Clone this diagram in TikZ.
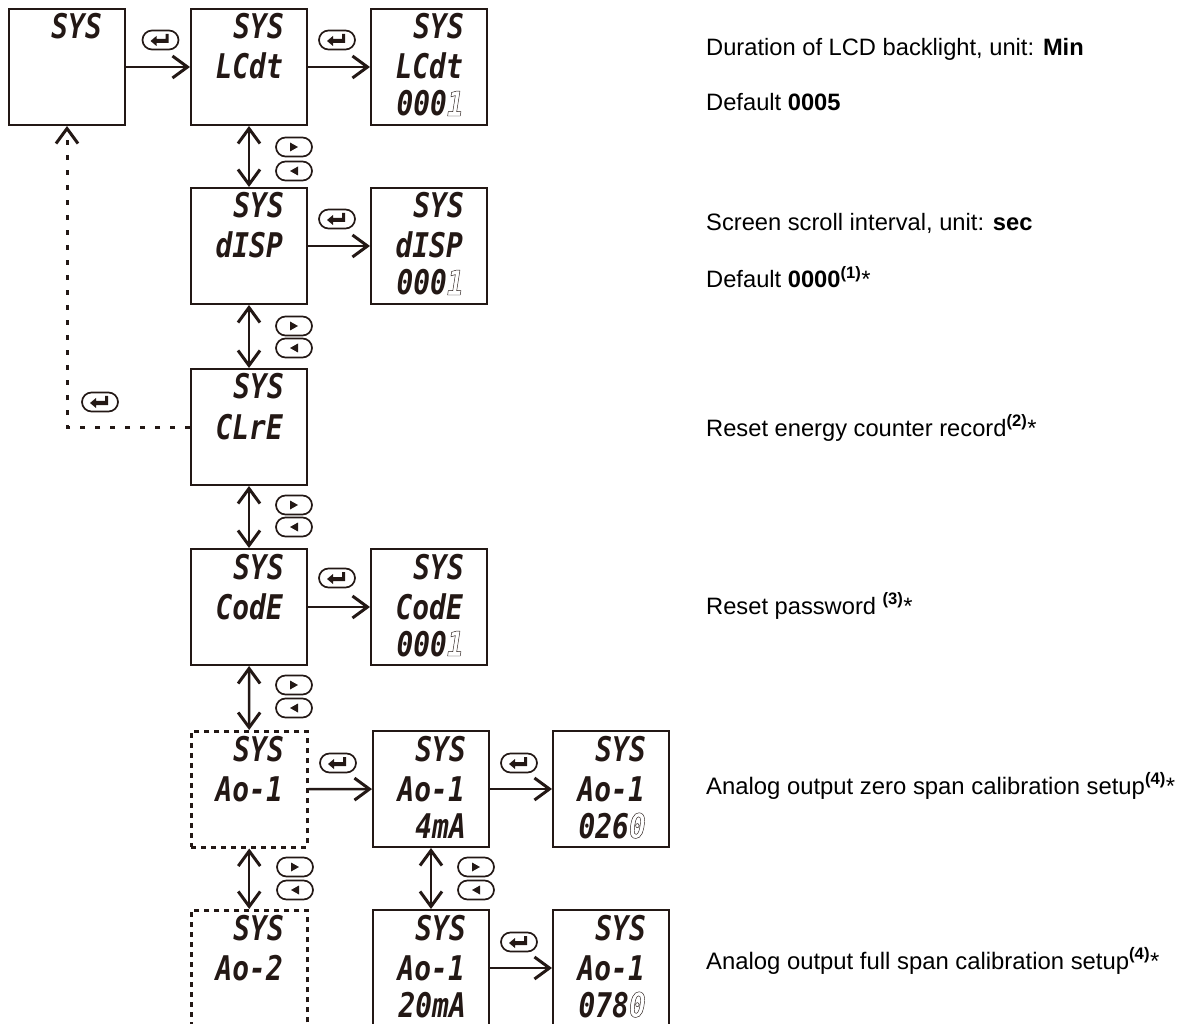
\documentclass[tikz,border=0pt]{standalone}
\usepackage{fontspec}
\usetikzlibrary{arrows.meta}
\setmainfont{Liberation Sans}
\newfontfamily\segfont[FakeStretch=0.82]{DejaVu Sans Mono}
\definecolor{ink}{HTML}{231815}
\newcommand\outl[1]{\special{pdf:code 1 Tr 0.45 w}#1\special{pdf:code 0 Tr}}
\tikzset{
  x=1pt,y=-1pt,
  barb/.tip={Straight Barb[length=15pt,width=22pt,line width=3pt]},
  lcdbox/.style={draw=ink,line width=2pt,minimum width=116pt,minimum height=116pt,inner sep=0pt,anchor=north west},
  lcddash/.style={lcdbox,line width=2.5pt,dash pattern=on 5pt off 5pt},
  seg/.style={text=ink,inner sep=0pt,anchor=base east,font=\segfont\bfseries\itshape\fontsize{34}{34}\selectfont},
  link/.style={draw=ink,line width=2.4pt,-barb},
  dlink/.style={draw=ink,line width=2.4pt,barb-barb},
  rlink/.style={link,line width=3pt,dash pattern=on 5pt off 10pt},
  pill/.style={draw=ink,line width=1.7pt,minimum width=36pt,minimum height=19pt,inner sep=0pt,rounded corners=9.5pt},
  enterkey/.style={pill,path picture={\fill[ink,sharp corners,shift={(path picture bounding box.center)}] (-10,1) -- (-4,-4) -- (-4,-1) -- (5,-1) -- (5,-6) -- (8,-6) -- (8,3) -- (-4,3) -- (-4,6) -- cycle;}},
  rightkey/.style={pill,path picture={\fill[ink,sharp corners,shift={(path picture bounding box.center)}] (-4,-4.5) -- (4,0) -- (-4,4.5) -- cycle;}},
  leftkey/.style={pill,path picture={\fill[ink,sharp corners,shift={(path picture bounding box.center)}] (4,-4.5) -- (-4,0) -- (4,4.5) -- cycle;}},
  note/.style={anchor=base west,inner sep=0pt,text=black,font=\fontsize{23.7}{28}\selectfont},
  widenote/.style={note,font=\fontsize{23.85}{28}\selectfont},
}
\newcommand\lcd[7][lcdbox]{%
  \node[#1] (#2) at (#3,#4) {};
  \node[seg] (#2a) at (#3+94,#4+31) {#5};
  \node[seg] (#2b) at (#3+93,#4+71) {#6};
  \node[seg] (#2c) at (#3+94,#4+108) {#7};
}
\newcommand\sups[1]{\textsuperscript{\bfseries #1}}
\begin{document}
\begin{tikzpicture}
\useasboundingbox (0,0) rectangle (1184,1024);
\clip (0,0) rectangle (1184,1024);
\lcd{a1}{8}{8}{SYS}{}{}
\lcd{a2}{190}{8}{SYS}{LCdt}{}
\lcd{a3}{370}{8}{SYS}{LCdt}{000\outl{1}}
\lcd{b2}{190}{187}{SYS}{dISP}{}
\lcd{b3}{370}{187}{SYS}{dISP}{000\outl{1}}
\lcd{c2}{190}{368}{SYS}{CLrE}{}
\lcd{d2}{190}{548}{SYS}{CodE}{}
\lcd{d3}{370}{548}{SYS}{CodE}{000\outl{1}}
\lcd[lcddash]{e2}{190}{730}{SYS}{Ao-1}{}
\lcd{e3}{372}{730}{SYS}{Ao-1}{4mA}
\lcd{e4}{552}{730}{SYS}{Ao-1}{026\outl{0}}
\lcd[lcddash]{f2}{190}{909}{SYS}{Ao-2}{}
\lcd{f3}{372}{909}{SYS}{Ao-1}{20mA}
\lcd{f4}{552}{909}{SYS}{Ao-1}{078\outl{0}}
% connectors
\draw[link] (a1) -- (a2);
\draw[link] (a2) -- (a3);
\draw[link] (b2) -- (b3);
\draw[link] (d2) -- (d3);
\draw[link] (e2) -- (e3);
\draw[link] (e3) -- (e4);
\draw[link] (f3) -- (f4);
\draw[dlink] (a2) -- (b2);
\draw[dlink] (b2) -- (c2);
\draw[dlink] (c2) -- (d2);
\draw[dlink] (d2) -- (e2);
\draw[dlink] (e2) -- (f2);
\draw[dlink] (e3) -- (f3);
\coordinate (ret) at (a1.south |- c2.west);
\draw[rlink] (c2.west) -- (ret) -- (a1.south);
% keys
\node[enterkey] (k1) at (160.5,40) {};
\node[enterkey] (k2) at (337,40) {};
\node[enterkey] (k3) at (337,219) {};
\node[enterkey] (k4) at (337,578) {};
\node[enterkey] (k5) at (338,763) {};
\node[enterkey] (k6) at (519,763) {};
\node[enterkey] (k7) at (519,942) {};
\node[enterkey] (k8) at (100,402) {};
\node[rightkey] (r1) at (294,147) {};
\node[leftkey] (l1) at (294,171) {};
\node[rightkey] (r2) at (294,326) {};
\node[leftkey] (l2) at (294,348) {};
\node[rightkey] (r3) at (294,505) {};
\node[leftkey] (l3) at (294,527) {};
\node[rightkey] (r4) at (294,685) {};
\node[leftkey] (l4) at (294,708) {};
\node[rightkey] (r5) at (295,867) {};
\node[leftkey] (l5) at (295,890) {};
\node[rightkey] (r6) at (476,867) {};
\node[leftkey] (l6) at (476,890) {};
% notes
\node[note] (n1) at (706,56) {Duration of LCD backlight, unit: \textbf{Min}};
\node[note] (n2) at (706,111) {Default \textbf{0005}};
\node[note] (n3) at (706,231) {Screen scroll interval, unit: \textbf{sec}};
\node[note] (n4) at (706,288) {Default \textbf{0000}\sups{(1)}*};
\node[note] (n5) at (706,436) {Reset energy counter record\sups{(2)}*};
\node[note] (n6) at (706,614) {Reset password \sups{(3)}*};
\node[widenote] (n7) at (706,794) {Analog output zero span calibration setup\sups{(4)}*};
\node[widenote] (n8) at (706,969) {Analog output full span calibration setup\sups{(4)}*};
\end{tikzpicture}
\end{document}
